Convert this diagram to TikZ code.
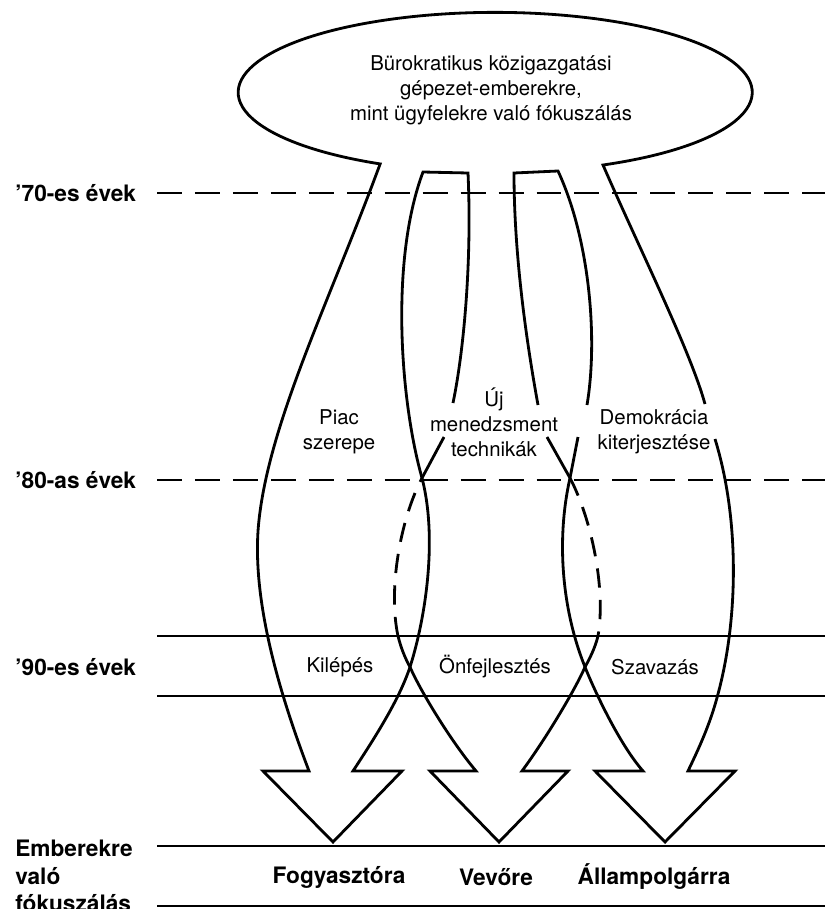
\documentclass[tikz,border=0pt]{standalone}
\usepackage{fontspec}
\setmainfont{TeX Gyre Heros}
\usetikzlibrary{positioning}

\begin{document}
\begin{tikzpicture}[
    x = 0.02cm, y = -0.02cm,
    flow/.style = {draw, line width = 1.6pt},
    flowhid/.style = {draw, line width = 1.6pt, dash pattern = on 11pt off 7pt},
    era/.style = {draw, line width = 1.3pt, dash pattern = on 14.2pt off 7.4pt},
    band/.style = {draw, line width = 1.1pt},
    decade/.style = {anchor = west, align = left, inner sep = 0, font = \fontsize{12.9}{15.6}\selectfont\bfseries},
    lbl/.style = {align = center, inner sep = 0, font = \fontsize{11.6}{14.2}\selectfont},
    result/.style = {inner sep = 0, font = \fontsize{12.9}{15.3}\selectfont\bfseries},
    ]
    \useasboundingbox (0,0) rectangle (834,909);

    % decades on the left
    \node[decade] (d70) at (15,193) {’70-es évek};
    \node[decade] (d80) at (15,480) {’80-as évek};
    \node[decade] (d90) at (15,667) {’90-es évek};
    \node[decade] (dfoc) at (15,876) {Emberekre\\való\\fókuszálás};

    \draw[era] (157,193) -- (825,193);
    \draw[era] (157,480) -- (825,480);
    \draw[band] (157,636) -- (825,636);
    \draw[band] (157,696) -- (825,696);
    \draw[band] (157,846) -- (825,846);
    \draw[band] (157,906) -- (825,906);

    % ellipse, left arrow and its right edge
    \draw[flow] (705,404) .. controls (690,350) and (640,250) .. (603,165)
        arc[start angle = 65.2, end angle = -243.4, x radius = 257, y radius = 80]
        .. controls (330,300) and (270,420) .. (259,520)
        .. controls (250,600) and (282,700) .. (309,771)
        -- (263,771) -- (333,842) -- (402,771) -- (353,771)
        .. controls (380,730) and (400,697) .. (410,667)
        .. controls (425,620) and (438,540) .. (422,478)
        .. controls (400,400) and (390,260) .. (423,172)
        -- (468,173) .. controls (472,260) and (464,350) .. (453,403);
    \draw[flow] (422,478) -- (444,437);
    \draw[flowhid] (398,636) .. controls (388,590) and (400,520) .. (422,478);

    % middle arrow
    \draw[flow] (598,636) .. controls (595,648) and (590,658) .. (585,667)
        .. controls (575,690) and (545,740) .. (522,771)
        -- (568,771) -- (499,842) -- (430,771) -- (476,771)
        .. controls (450,740) and (420,690) .. (410,667)
        .. controls (405,658) and (401,648) .. (398,636);
    \draw[flowhid] (570,478) .. controls (592,520) and (606,590) .. (598,636);
    \draw[flow] (547,437) -- (570,478);

    % right arrow
    \draw[flow] (587,405) .. controls (598,340) and (590,240) .. (558,171)
        -- (514,173) .. controls (514,260) and (528,350) .. (538,405);
    \draw[flow] (715,439) .. controls (740,520) and (738,620) .. (718,694)
        .. controls (710,725) and (698,750) .. (688,771)
        -- (735,771) -- (665,842) -- (595,771) -- (643,771)
        .. controls (620,745) and (595,692) .. (585,667)
        .. controls (562,610) and (556,540) .. (570,478) -- (578,437);

    % texts
    \node[lbl] (bureau) at (491,90) {Bürokratikus közigazgatási\\gépezet-emberekre,\\mint ügyfelekre való fókuszálás};
    \node[lbl] (piac) at (339,432) {Piac\\szerepe};
    \node[lbl] (menedzs) at (494,422) {Új\\menedzsment\\technikák};
    \node[lbl] (demo) at (654,432) {Demokrácia\\kiterjesztése};
    \node[lbl] (kilep) at (340,667) {Kilépés};
    \node[lbl] (onfejl) at (495,667) {Önfejlesztés};
    \node[lbl] (szavaz) at (655,667) {Szavazás};
    \node[result] (fogy) at (339,877) {Fogyasztóra};
    \node[result] (vevo) at (496,877) {Vevőre};
    \node[result] (allam) at (654,877) {Állampolgárra};
\end{tikzpicture}
\end{document}
